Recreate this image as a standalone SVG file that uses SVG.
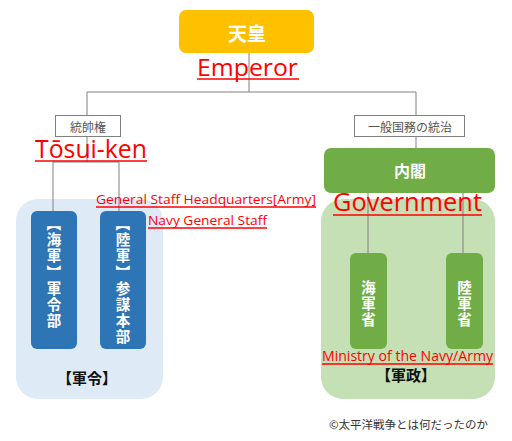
<svg xmlns="http://www.w3.org/2000/svg" width="512" height="441" viewBox="0 0 512 441">
<style>
.conn line{stroke:#808080;stroke-width:1}
.lbl{fill:#fff;stroke:#7f7f7f;stroke-width:1}
.lbltx{font-family:"Noto Sans CJK JP",sans-serif;font-size:12px;fill:#555;text-anchor:middle;dominant-baseline:central}
.wb{font-family:"Noto Sans CJK JP",sans-serif;font-weight:bold;fill:#fff;text-anchor:middle;dominant-baseline:central}
.v{font-size:14.5px}
.vt{writing-mode:vertical-rl;letter-spacing:1.5px}
.red{font-family:"Open Sans","Noto Sans",sans-serif;fill:#ff0000}
.ul{stroke:#ff0000;stroke-width:1.5}
.blk{font-family:"Noto Sans CJK JP",sans-serif;font-weight:bold;fill:#111;text-anchor:middle;dominant-baseline:central;font-size:15px}
</style>
<rect width="512" height="441" fill="#fff"/>
<g id="bg-left"><rect x="16" y="199" width="147" height="200" rx="22" fill="#deebf7"/></g>
<g id="bg-right"><rect x="321" y="199" width="174" height="200" rx="22" fill="#c5e0b4"/></g>
<g class="conn">
<line x1="249" y1="53" x2="249" y2="92"/>
<line x1="87" y1="92" x2="416" y2="92"/>
<line x1="87" y1="92" x2="87" y2="162"/>
<line x1="416" y1="92" x2="416" y2="148"/>
<line x1="53" y1="162" x2="119" y2="162"/>
<line x1="53" y1="162" x2="53" y2="211"/>
<line x1="119" y1="162" x2="119" y2="217"/>
<line x1="368" y1="193" x2="368" y2="253"/>
<line x1="463" y1="193" x2="463" y2="253"/>
</g>
<g id="emperor">
<rect x="179" y="10" width="135" height="43" rx="7" fill="#ffc000"/>
<text class="wb" x="247" y="32" font-size="19">天皇</text>
</g>
<g id="tosuiken">
<rect class="lbl" x="55.5" y="115.5" width="65" height="21"/>
<text class="lbltx" x="88" y="126">統帥権</text>
</g>
<g id="kokumu">
<rect class="lbl" x="354.5" y="115.5" width="110" height="21"/>
<text class="lbltx" x="410" y="126">一般国務の統治</text>
</g>
<g id="naikaku">
<rect x="324" y="148" width="171" height="45" rx="7" fill="#70ad47"/>
<text class="wb" x="410" y="170" font-size="16">内閣</text>
</g>
<g id="navy-gunreibu">
<rect x="31" y="211" width="46" height="138" rx="6" fill="#2e75b6"/>
<text class="wb v" transform="translate(54,224) rotate(90)">【</text>
<text class="wb v vt" x="54" y="248">海軍</text>
<text class="wb v" transform="translate(54,272) rotate(90)">】</text>
<text class="wb v vt" x="54" y="305">軍令部</text>
</g>
<g id="army-sanbohonbu">
<rect x="100" y="211" width="46" height="138" rx="6" fill="#2e75b6"/>
<text class="wb v" transform="translate(123,224) rotate(90)">【</text>
<text class="wb v vt" x="123" y="248">陸軍</text>
<text class="wb v" transform="translate(123,272) rotate(90)">】</text>
<text class="wb v vt" x="123" y="313">参謀本部</text>
</g>
<g id="kaigunsho">
<rect x="350" y="253" width="37" height="96" rx="6" fill="#70ad47"/>
<text class="wb v vt" x="368.5" y="304">海軍省</text>
</g>
<g id="rikugunsho">
<rect x="446" y="253" width="37" height="96" rx="6" fill="#70ad47"/>
<text class="wb v vt" x="464.5" y="304">陸軍省</text>
</g>
<g id="labels">
<text class="blk" x="87" y="377">【軍令】</text>
<text class="blk" x="406" y="374">【軍政】</text>
<text x="488" y="424" font-family="Noto Sans CJK JP,sans-serif" font-size="11.5" fill="#333" text-anchor="end" dominant-baseline="central">©太平洋戦争とは何だったのか</text>
</g>
<g id="annotations">
<text class="red" x="197" y="76" font-size="24" textLength="101" lengthAdjust="spacingAndGlyphs">Emperor</text>
<line class="ul" x1="197" y1="79" x2="299" y2="79"/>
<text class="red" x="35" y="158" font-size="26" textLength="112" lengthAdjust="spacingAndGlyphs">Tōsui-ken</text>
<line class="ul" x1="35" y1="161" x2="147" y2="161"/>
<text class="red" x="96" y="204" font-size="13.5" textLength="220" lengthAdjust="spacingAndGlyphs">General Staff Headquarters[Army]</text>
<line class="ul" x1="96" y1="207" x2="316" y2="207" stroke-width="1"/>
<text class="red" x="148" y="225" font-size="13.5" textLength="119" lengthAdjust="spacingAndGlyphs">Navy General Staff</text>
<line class="ul" x1="148" y1="228" x2="267" y2="228" stroke-width="1"/>
<text class="red" x="333" y="211" font-size="26" textLength="149" lengthAdjust="spacingAndGlyphs">Government</text>
<line class="ul" x1="333" y1="215" x2="482" y2="215"/>
<text class="red" x="322" y="361" font-size="15" textLength="171" lengthAdjust="spacingAndGlyphs">Ministry of the Navy/Army</text>
<line class="ul" x1="322" y1="364" x2="493" y2="364"/>
</g>
</svg>
